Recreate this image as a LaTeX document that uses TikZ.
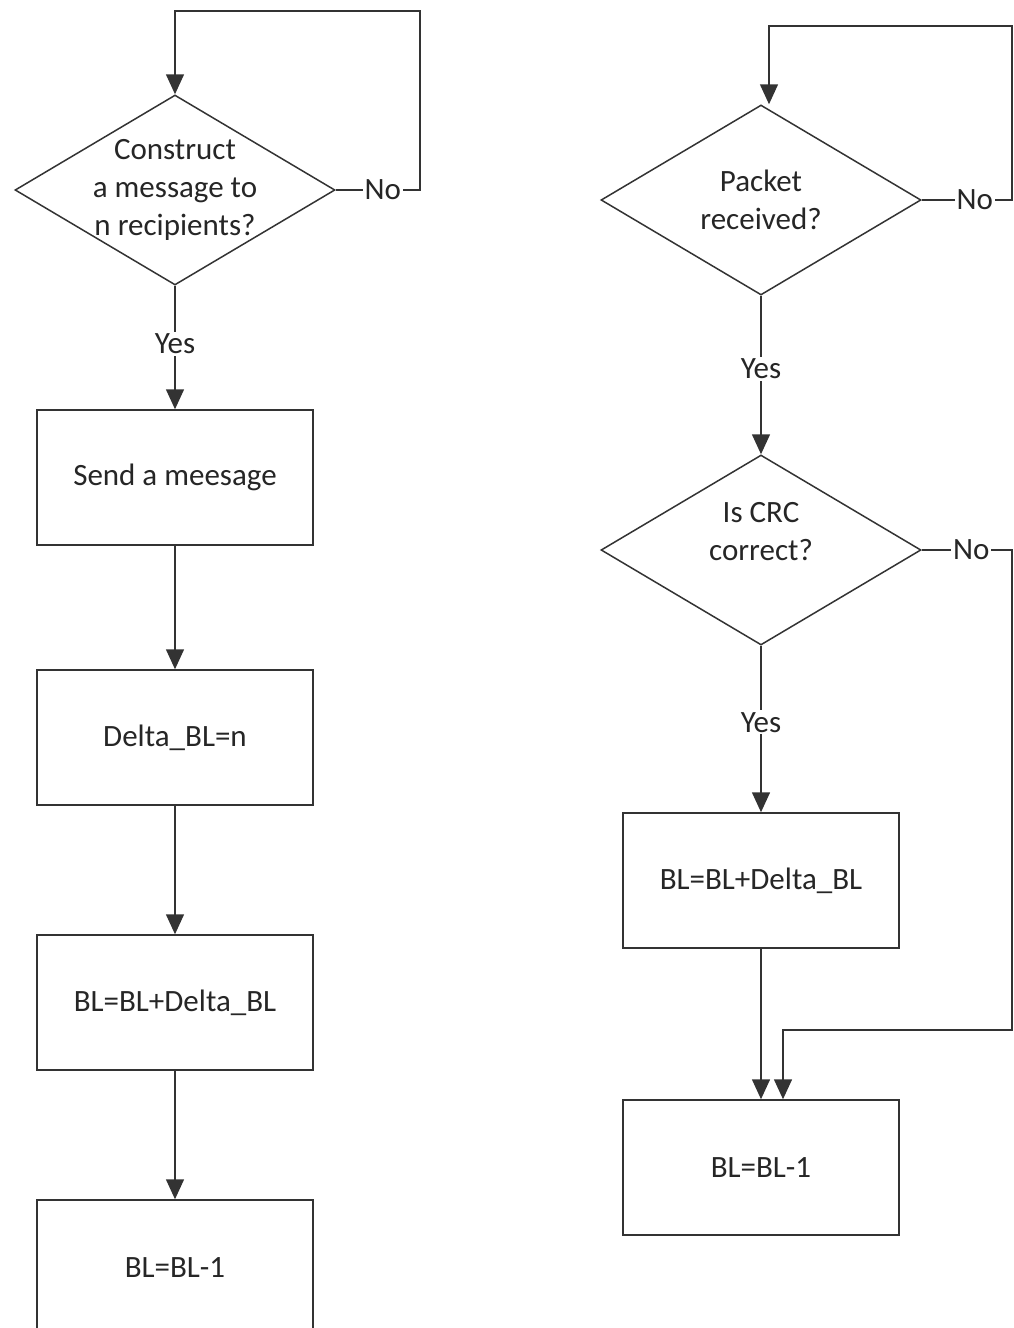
\documentclass[tikz,border=0pt]{standalone}
\usepackage{fontspec}
\setmainfont{Carlito}
\usetikzlibrary{shapes.geometric,arrows.meta}

\begin{document}
\begin{tikzpicture}[x=0.5pt,y=-0.5pt, % one unit is one pixel of the sketch
        line width=0.75pt, draw=black!80, >={Triangle[length=10pt,width=9pt]},
        every node/.style={font=\fontsize{15.5}{19}\selectfont, text=black!85},
        box/.style={draw, rectangle, minimum width=138pt, minimum height=67.5pt, fill=white},
        ask/.style={draw, diamond, align=center, inner sep=-14pt, minimum width=160pt, minimum height=95pt},
        lbl/.style={fill=white, inner sep=1pt}]
        \useasboundingbox (0,0) rectangle (1013,1328);

        % left column
        \node[ask] (d1) at (175,190) {Construct\\a message to\\n recipients?};
        \node[box] (b1) at (175,477.5) {Send a meesage};
        \node[box] (b2) at (175,737.5) {Delta\_BL=n};
        \node[box] (b3) at (175,1002.5) {BL=BL+Delta\_BL};
        \node[box] (b4) at (175,1267.5) {BL=BL-1};

        \draw[->] (d1.east) -- node[lbl, pos=0.56]{No} ++(84,0) -- ++(0,-179) -| (d1.north);
        \draw[->] (d1.south) -- node[lbl, pos=0.47]{Yes} (b1.north);
        \draw[->] (b1) -- (b2);
        \draw[->] (b2) -- (b3);
        \draw[->] (b3) -- (b4);

        % right column
        \node[ask] (d2) at (761,200) {Packet\\received?};
        \node[ask] (d3) at (761,550) {Is CRC\\correct?\\\mbox{}};
        \node[box] (b5) at (761,880.5) {BL=BL+Delta\_BL};
        \node[box] (b6) at (761,1167.5) {BL=BL-1};

        \draw[->] (d2.east) -- node[lbl, pos=0.59]{No} ++(90,0) -- ++(0,-174) -| ([xshift=4pt]d2.north);
        \draw[->] (d2.south) -- node[lbl, pos=0.46]{Yes} (d3.north);
        \draw[->] (d3.east) -- node[lbl, pos=0.55]{No} ++(90,0) -- ++(0,480) -| ([xshift=11pt]b6.north);
        \draw[->] (d3.south) -- node[lbl, pos=0.46]{Yes} (b5.north);
        \draw[->] (b5) -- (b6);

    \end{tikzpicture}
\end{document}
